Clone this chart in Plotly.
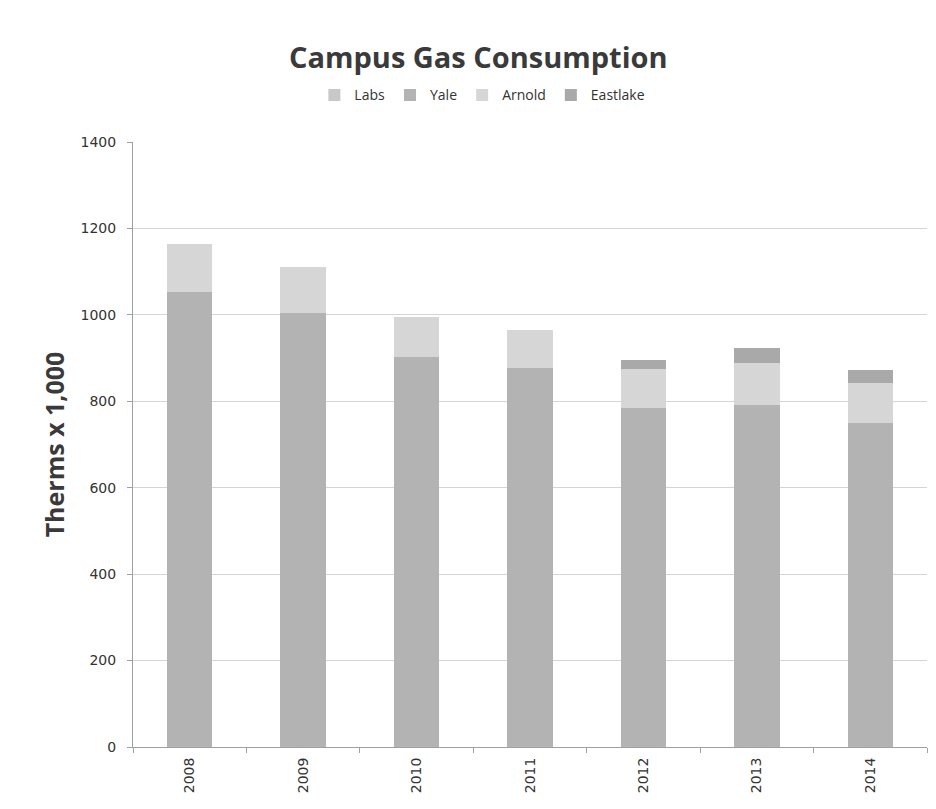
import plotly.graph_objects as go

# Annual campus gas use, thousands of therms
years = ["2008", "2009", "2010", "2011", "2012", "2013", "2014"]
labs = [0, 0, 0, 0, 0, 0, 0]
yale = [1054, 1004, 903, 877, 785, 791, 750]
arnold = [110, 107, 92, 88, 90, 98, 92]
eastlake = [0, 0, 0, 0, 21, 34, 30]

series = [
    ("Labs", labs, "#c8c8c8"),
    ("Yale", yale, "#b3b3b3"),
    ("Arnold", arnold, "#d6d6d6"),
    ("Eastlake", eastlake, "#a9a9a9"),
]

fig = go.Figure()
for name, vals, color in series:
    fig.add_trace(go.Bar(
        x=years, y=vals, name=name,
        marker=dict(color=color, line=dict(width=0)),
    ))

fig.update_layout(
    width=936, height=809,
    barmode="stack", bargap=0.6,
    paper_bgcolor="white", plot_bgcolor="white",
    margin=dict(l=133, r=9, t=142, b=62),
    title=dict(
        text="<b>Campus Gas Consumption</b>",
        x=0.511, xanchor="center", y=0.928, yanchor="middle",
        font=dict(family="Open Sans", size=29, color="#3a3a3a"),
    ),
    legend=dict(
        orientation="h", x=0.44, xanchor="center", y=1.077, yanchor="middle",
        font=dict(family="Open Sans", size=14, color="#333333"),
        itemwidth=30, traceorder="normal", tracegroupgap=0,
    ),
    showlegend=True,
    font=dict(family="DejaVu Sans", color="#333333"),
)

fig.update_yaxes(
    range=[0, 1400], dtick=200,
    showgrid=True, gridcolor="#d4d4d4", gridwidth=1,
    showline=True, linecolor="#a0a0a0", linewidth=1,
    ticks="outside", ticklen=5, tickcolor="#a0a0a0",
    ticklabelstandoff=8,
    tickfont=dict(family="DejaVu Sans", size=14, color="#333333"),
    title=dict(text="<b>Therms x 1,000</b>", standoff=8,
               font=dict(family="Open Sans", size=25, color="#3a3a3a")),
    zeroline=False,
)
fig.update_xaxes(
    showline=True, linecolor="#a0a0a0", linewidth=1,
    ticks="outside", ticklen=5, tickcolor="#a0a0a0", tickson="boundaries",
    tickangle=-90, ticklabelstandoff=4,
    tickfont=dict(family="DejaVu Sans", size=14, color="#333333"),
)

fig.write_html("out.html")
